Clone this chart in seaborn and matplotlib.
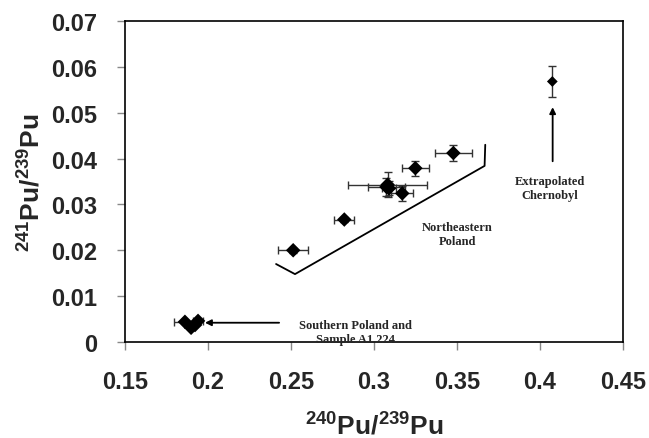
import numpy as np
import pandas as pd
import matplotlib
matplotlib.use('Agg')
import matplotlib.pyplot as plt
import seaborn as sns

# 240Pu/239Pu vs 241Pu/239Pu
ratio_240 = [0.2513, 0.2821, 0.3082, 0.3075, 0.3090, 0.3170, 0.3249, 0.3478,
             0.4074,
             0.1861, 0.1898, 0.1922, 0.1940]
ratio_241 = [0.0200, 0.0267, 0.0343, 0.0338, 0.0335, 0.0324, 0.0379, 0.0412,
             0.0568,
             0.0044, 0.0031, 0.0037, 0.0046]
err_240 = [0.009, 0.006, 0.024, 0.011, 0.004, 0.0065, 0.008, 0.011,
           0.0,
           0.0066, 0.0, 0.0, 0.003]
err_241 = [0.0005, 0.0005, 0.0027, 0.002, 0.0015, 0.0017, 0.0016, 0.0018,
           0.0033,
           0.0, 0.0, 0.0, 0.0]
group = ['NE'] * 8 + ['Chernobyl'] + ['South'] * 4

# bracket around the Northeastern Poland group
bracket_x = [0.2410, 0.2524, 0.3666, 0.3670]
bracket_y = [0.0170, 0.0148, 0.0384, 0.0430]

df = pd.DataFrame({'r240': ratio_240, 'r241': ratio_241, 'group': group})

sns.set_style('ticks')
plt.rcParams['font.family'] = ['Liberation Sans', 'DejaVu Sans']
plt.rcParams['mathtext.fontset'] = 'custom'
plt.rcParams['mathtext.bf'] = 'Liberation Sans:bold'
plt.rcParams['mathtext.rm'] = 'Liberation Sans:bold'

fig = plt.figure(figsize=(6.49, 4.39), dpi=100)
ax = fig.add_axes([0.1926, 0.2187, 0.7674, 0.7313])

ax.errorbar(ratio_240, ratio_241, xerr=err_240, yerr=err_241, fmt='none',
            ecolor='#333333', elinewidth=1, capsize=3, capthick=1, zorder=2)
sns.scatterplot(data=df, x='r240', y='r241', marker='D', color='black',
                size='group', sizes={'NE': 55, 'South': 55, 'Chernobyl': 30},
                legend=False, edgecolor='black', linewidth=0, ax=ax, zorder=3)

ax.plot(bracket_x, bracket_y, color='black', lw=1.3)

serif = ['Liberation Serif', 'DejaVu Serif']
ax.text(0.3500, 0.0235, 'Northeastern\nPoland', ha='center', va='center',
        family=serif, fontweight='bold', fontsize=9, linespacing=1.25)
ax.text(0.4060, 0.0336, 'Extrapolated\nChernobyl', ha='center', va='center',
        family=serif, fontweight='bold', fontsize=9, linespacing=1.25)
ax.text(0.2890, 0.0022, 'Southern Poland and\nSample A1 224', ha='center',
        va='center', family=serif, fontweight='bold', fontsize=9, linespacing=1.25)

ax.annotate('', xy=(0.4076, 0.0518), xytext=(0.4076, 0.0388),
            arrowprops=dict(arrowstyle='-|>', color='black', lw=1.3,
                            mutation_scale=9))
ax.annotate('', xy=(0.1965, 0.0042), xytext=(0.2445, 0.0042),
            arrowprops=dict(arrowstyle='-|>', color='black', lw=1.3,
                            mutation_scale=9))

ax.set_xlim(0.15, 0.45)
ax.set_ylim(0, 0.07)
ax.set_xticks([0.15, 0.2, 0.25, 0.3, 0.35, 0.4, 0.45])
ax.set_xticklabels(['0.15', '0.2', '0.25', '0.3', '0.35', '0.4', '0.45'])
ax.set_yticks([0, 0.01, 0.02, 0.03, 0.04, 0.05, 0.06, 0.07])
ax.set_yticklabels(['0', '0.01', '0.02', '0.03', '0.04', '0.05', '0.06', '0.07'])
ax.tick_params(axis='both', labelsize=17, length=6, width=1, color='#888888',
               direction='out', pad=14)
for lab in ax.get_xticklabels() + ax.get_yticklabels():
    lab.set_fontweight('bold')
for sp in ax.spines.values():
    sp.set_visible(True)
    sp.set_color('black')
    sp.set_linewidth(1.2)

ax.set_xlabel(r'$\mathbf{^{240}Pu/^{239}Pu}$', fontsize=19, labelpad=14)
ax.set_ylabel(r'$\mathbf{^{241}Pu/^{239}Pu}$', fontsize=19, labelpad=4)

fig.savefig('out.png', dpi=100)
